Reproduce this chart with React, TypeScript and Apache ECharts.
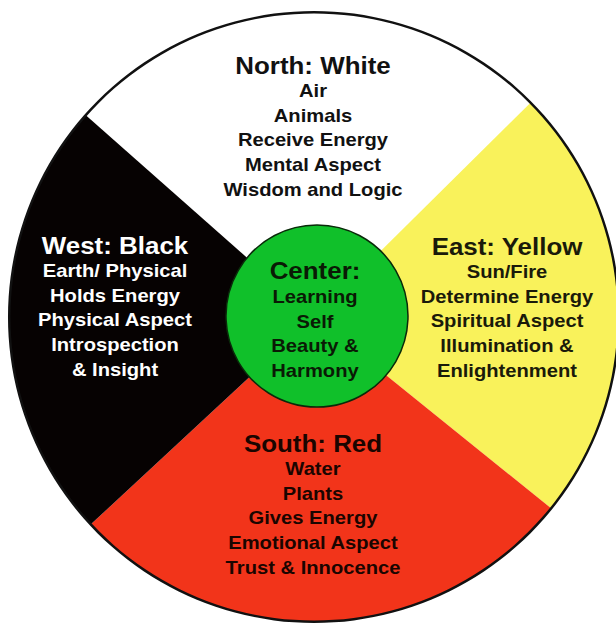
import React, { useEffect, useRef } from "react";
import * as echarts from "echarts";

// Quadrants (clockwise from the top); arc sizes in degrees
const quadrantNames = ["North: White", "East: Yellow", "South: Red", "West: Black"];
const quadrantArcDegrees = [93.8, 83.6, 98.2, 84.4];
const quadrantColors = ["#ffffff", "#f9f25b", "#f2341a", "#060202"];
const quadrantTextColors = ["#111111", "#1a1a0a", "#1a0500", "#ffffff"];

const northLines = ["Air", "Animals", "Receive Energy", "Mental Aspect", "Wisdom and Logic"];
const eastLines = ["Sun/Fire", "Determine Energy", "Spiritual Aspect", "Illumination &", "Enlightenment"];
const southLines = ["Water", "Plants", "Gives Energy", "Emotional Aspect", "Trust & Innocence"];
const westLines = ["Earth/ Physical", "Holds Energy", "Physical Aspect", "Introspection", "& Insight"];

const centerName = "Center:";
const centerLines = ["Learning", "Self", "Beauty &", "Harmony"];
const centerValues = [1];

const quadrantLines = [northLines, eastLines, southLines, westLines];

export default function App() {
  const ref = useRef<HTMLDivElement>(null);

  useEffect(() => {
    if (!ref.current) return;
    const chart = echarts.init(ref.current, null, { renderer: "svg" });

    // layout: text block anchors (x, header y)
    const anchors = [
      { x: 313, y: 65 },
      { x: 507, y: 246 },
      { x: 313, y: 443 },
      { x: 115, y: 245 },
    ];
    const lineGap = 24.6;
    const headFont = 'bold 24px "Liberation Sans", Arial, sans-serif';
    const subFont = 'bold 18px "Liberation Sans", Arial, sans-serif';

    const mkText = (text: string, x: number, y: number, font: string, fill: string, sx: number) => ({
      type: "text",
      x,
      y,
      scaleX: sx,
      silent: true,
      z: 100,
      style: {
        text,
        font,
        fill,
        textAlign: "center",
        textVerticalAlign: "middle",
        align: "center",
        verticalAlign: "middle",
      },
    });

    const texts: any[] = [];
    quadrantNames.forEach((name, i) => {
      const a = anchors[i];
      const fill = quadrantTextColors[i];
      texts.push(mkText(name, a.x, a.y, headFont, fill, 1.08));
      quadrantLines[i].forEach((ln, j) => {
        texts.push(mkText(ln, a.x, a.y + 26 + j * lineGap, subFont, fill, 1.12));
      });
    });
    texts.push(mkText(centerName, 315, 270, headFont, "#0a1a05", 1.08));
    centerLines.forEach((ln, j) => {
      texts.push(mkText(ln, 315, 297 + j * lineGap, subFont, "#0a1a05", 1.12));
    });

    chart.setOption({
      animation: false,
      backgroundColor: "#ffffff",
      series: [
        {
          type: "pie",
          center: [314, 317],
          radius: [0, 305],
          startAngle: 138.5,
          clockwise: true,
          minAngle: 0,
          silent: true,
          label: { show: false },
          labelLine: { show: false },
          itemStyle: { borderWidth: 0 },
          data: quadrantNames.map((n, i) => ({
            name: n,
            value: quadrantArcDegrees[i],
            itemStyle: { color: quadrantColors[i] },
          })),
        },
        {
          type: "pie",
          center: [314, 317],
          radius: [303.5, 306],
          silent: true,
          label: { show: false },
          labelLine: { show: false },
          itemStyle: { color: "#111111", borderWidth: 0 },
          data: [{ name: "rim", value: 1 }],
        },
        {
          type: "pie",
          center: [317, 316],
          radius: [0, 91],
          silent: true,
          label: { show: false },
          labelLine: { show: false },
          itemStyle: { color: "#10c02a", borderColor: "#0a2a0a", borderWidth: 1.5 },
          data: centerValues.map((v) => ({ name: "Center", value: v })),
        },
      ],
      graphic: texts,
    });

    return () => chart.dispose();
  }, []);

  return (
    <div
      ref={ref}
      style={{ position: "absolute", left: 0, top: 0, width: 616, height: 624 }}
    />
  );
}
